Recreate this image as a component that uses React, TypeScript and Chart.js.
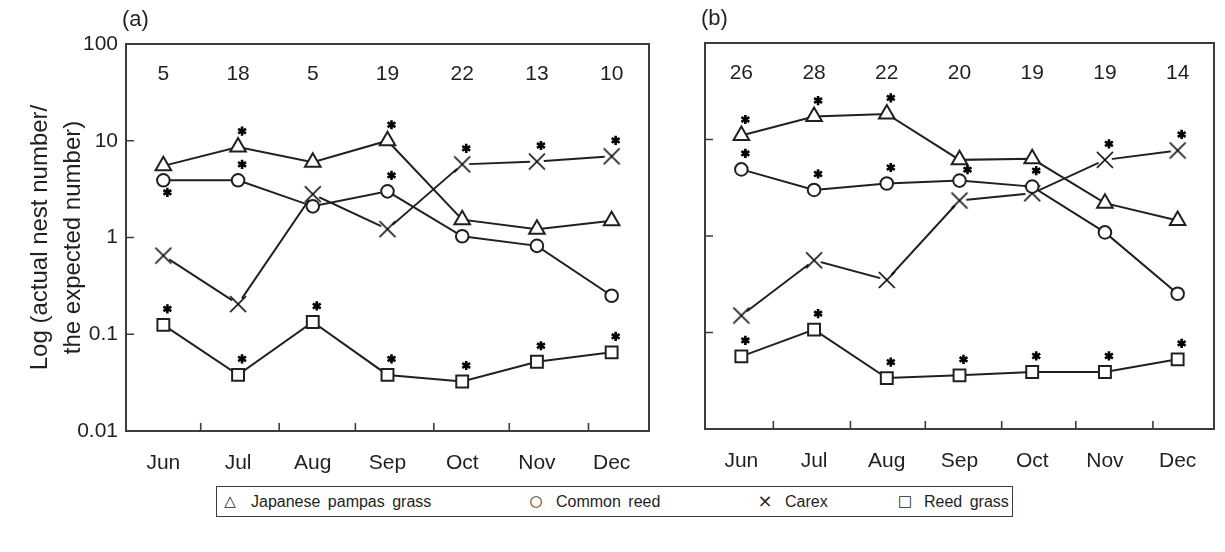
import React, { useEffect, useRef } from 'react';
import { Chart, registerables } from 'chart.js';
Chart.register(...registerables);

// ---------- data ----------
const months = ['Jun', 'Jul', 'Aug', 'Sep', 'Oct', 'Nov', 'Dec'];
const yTickValues = [0.01, 0.1, 1, 10, 100];
const innerYTicks = [0.1, 1, 10];
const xTickMarksA = [0.5, 1.55, 2.57, 3.62, 4.63, 5.69];
const xTickMarksB = [0.44, 1.5, 2.53, 3.58, 4.6, 5.66];

const countsA = [5, 18, 5, 19, 22, 13, 10];
const countsB = [26, 28, 22, 20, 19, 19, 14];

const pampasA = [5.5, 8.6, 6.0, 10.0, 1.53, 1.22, 1.49];
const reedA = [3.9, 3.9, 2.1, 3.0, 1.03, 0.82, 0.25];
const carexA = [0.65, 0.205, 2.8, 1.22, 5.7, 6.1, 6.9];
const reedGrassA = [0.125, 0.038, 0.134, 0.038, 0.0325, 0.052, 0.065];

const pampasB = [11.0, 17.3, 18.4, 6.15, 6.3, 2.19, 1.45];
const reedB = [4.9, 3.0, 3.5, 3.75, 3.25, 1.09, 0.252];
const carexB = [0.15, 0.56, 0.35, 2.33, 2.77, 6.15, 7.7];
const reedGrassB = [0.0566, 0.107, 0.0337, 0.036, 0.039, 0.039, 0.0527];

// significance asterisks: 0 none, 1 above, 2 below, 3 above-right
const sigPampasA = [0, 1, 0, 1, 0, 0, 0];
const sigReedA = [2, 1, 0, 1, 0, 0, 0];
const sigCarexA = [0, 0, 0, 0, 1, 1, 1];
const sigReedGrassA = [1, 1, 1, 1, 1, 1, 1];
const sigPampasB = [1, 1, 1, 0, 0, 0, 0];
const sigReedB = [1, 1, 1, 3, 1, 0, 0];
const sigCarexB = [0, 0, 0, 0, 0, 1, 1];
const sigReedGrassB = [1, 1, 1, 1, 1, 1, 1];

const seriesNames = ['Japanese pampas grass', 'Common reed', 'Carex', 'Reed grass'];
const legendSymbols = ['\u25B3', '\u25CB', '\u00D7', '\u25A1'];
const yTitleLines = ['Log (actual nest number/', 'the expected number)'];

// ---------- styles ----------
const INK = '#231f20';
const FRAME = '#3c3c3c';
const FONT = "'Liberation Sans', Arial, Helvetica, sans-serif";

function makeCross(): HTMLCanvasElement {
  const c = document.createElement('canvas');
  c.width = 24;
  c.height = 24;
  const ctx = c.getContext('2d')!;
  ctx.fillStyle = '#ffffff';
  ctx.beginPath();
  ctx.arc(12, 12, 7, 0, Math.PI * 2);
  ctx.fill();
  ctx.strokeStyle = '#000000';
  ctx.lineWidth = 1.6;
  ctx.beginPath();
  ctx.moveTo(4, 4);
  ctx.lineTo(20, 20);
  ctx.moveTo(20, 4);
  ctx.lineTo(4, 20);
  ctx.stroke();
  return c;
}

function drawStar(ctx: CanvasRenderingContext2D, x: number, y: number) {
  const r = 4.6;
  ctx.beginPath();
  for (let k = 0; k < 3; k++) {
    const a = Math.PI / 2 + (k * Math.PI) / 3;
    ctx.moveTo(x + Math.cos(a) * r, y + Math.sin(a) * r);
    ctx.lineTo(x - Math.cos(a) * r, y - Math.sin(a) * r);
  }
  ctx.stroke();
}

type PanelCfg = {
  label: string;
  counts: number[];
  xMarks: number[];
  sigs: number[][];
  showYLabels: boolean;
  title: boolean;
};

function overlayPlugin(cfg: PanelCfg) {
  return {
    id: 'overlay' + cfg.label,
    afterDraw(chart: any) {
      const ctx: CanvasRenderingContext2D = chart.ctx;
      const { left, right, top, bottom } = chart.chartArea;
      const xs = chart.scales.x;
      const ys = chart.scales.y;
      ctx.save();
      // frame
      ctx.strokeStyle = FRAME;
      ctx.lineWidth = 2;
      ctx.strokeRect(left, top, right - left, bottom - top);
      // inner ticks
      ctx.lineWidth = 1.6;
      ctx.beginPath();
      innerYTicks.forEach((v) => {
        const y = ys.getPixelForValue(v);
        ctx.moveTo(left, y);
        ctx.lineTo(left + 8, y);
      });
      cfg.xMarks.forEach((v) => {
        const x = xs.getPixelForValue(v);
        ctx.moveTo(x, bottom);
        ctx.lineTo(x, bottom - 8);
      });
      ctx.stroke();
      // counts
      ctx.fillStyle = INK;
      ctx.font = `21px ${FONT}`;
      ctx.textAlign = 'center';
      ctx.textBaseline = 'middle';
      cfg.counts.forEach((n, i) => {
        ctx.fillText(String(n), xs.getPixelForValue(i), top + 30);
      });
      // panel label
      ctx.textAlign = 'left';
      ctx.font = `22px ${FONT}`;
      ctx.fillText(cfg.label, left - 4, top - 24);
      // asterisks
      ctx.strokeStyle = '#000000';
      ctx.lineWidth = 2.6;
      cfg.sigs.forEach((sig, di) => {
        const meta = chart.getDatasetMeta(di);
        sig.forEach((s, i) => {
          if (!s) return;
          const p = meta.data[i];
          if (s === 1) drawStar(ctx, p.x + 4, p.y - 16);
          else if (s === 2) drawStar(ctx, p.x + 4, p.y + 12);
          else drawStar(ctx, p.x + 8, p.y - 11);
        });
      });
      // y title
      if (cfg.title) {
        ctx.font = `24px ${FONT}`;
        ctx.fillStyle = INK;
        ctx.textAlign = 'center';
        ctx.textBaseline = 'middle';
        const cy = (top + bottom) / 2;
        const cols = [40, 73];
        yTitleLines.forEach((t, k) => {
          ctx.save();
          ctx.translate(cols[k], cy);
          ctx.rotate(-Math.PI / 2);
          ctx.fillText(t, 0, 0);
          ctx.restore();
        });
      }
      ctx.restore();
    },
  };
}

function buildConfig(
  series: number[][],
  cfg: PanelCfg,
  geom: { yWidth: number; xHeight: number; top: number; right: number },
  cross: HTMLCanvasElement
): any {
  const styles = [
    { pointStyle: 'triangle', pointRadius: 9 },
    { pointStyle: 'circle', pointRadius: 6.3 },
    { pointStyle: cross, pointRadius: 9 },
    { pointStyle: 'rect', pointRadius: 8.4 },
  ];
  return {
    type: 'line',
    data: {
      labels: months,
      datasets: series.map((d, i) => ({
        label: seriesNames[i],
        data: d,
        borderColor: INK,
        borderWidth: 2,
        pointBorderColor: INK,
        pointBackgroundColor: '#ffffff',
        pointBorderWidth: 2,
        tension: 0,
        ...styles[i],
      })),
    },
    options: {
      animation: false,
      responsive: false,
      devicePixelRatio: 1,
      layout: { padding: { left: 0, right: geom.right, top: geom.top, bottom: 0 } },
      plugins: { legend: { display: false }, tooltip: { enabled: false } },
      scales: {
        x: {
          type: 'category',
          offset: true,
          grid: { display: false, drawTicks: false },
          border: { display: false },
          ticks: {
            color: INK,
            font: { family: FONT, size: 21 },
            padding: 20,
            maxRotation: 0,
          },
          afterFit: (s: any) => {
            s.height = geom.xHeight;
          },
        },
        y: {
          type: 'logarithmic',
          min: 0.01,
          max: 100,
          grid: { display: false, drawTicks: false },
          border: { display: false },
          afterBuildTicks: (s: any) => {
            s.ticks = yTickValues.map((v) => ({ value: v }));
          },
          ticks: {
            display: cfg.showYLabels,
            color: INK,
            font: { family: FONT, size: 21 },
            padding: 8,
            callback: (v: any) => String(v),
          },
          afterFit: (s: any) => {
            s.width = geom.yWidth;
          },
        },
      },
    },
    plugins: [overlayPlugin(cfg)],
  };
}

function App() {
  const refA = useRef<HTMLCanvasElement>(null);
  const refB = useRef<HTMLCanvasElement>(null);

  useEffect(() => {
    const cross = makeCross();
    const chartA = new Chart(
      refA.current!,
      buildConfig(
        [pampasA, reedA, carexA, reedGrassA],
        {
          label: '(a)',
          counts: countsA,
          xMarks: xTickMarksA,
          sigs: [sigPampasA, sigReedA, sigCarexA, sigReedGrassA],
          showYLabels: true,
          title: true,
        },
        { yWidth: 126, xHeight: 49, top: 44, right: 11 },
        cross
      )
    );
    const chartB = new Chart(
      refB.current!,
      buildConfig(
        [pampasB, reedB, carexB, reedGrassB],
        {
          label: '(b)',
          counts: countsB,
          xMarks: xTickMarksB,
          sigs: [sigPampasB, sigReedB, sigCarexB, sigReedGrassB],
          showYLabels: false,
          title: false,
        },
        { yWidth: 45, xHeight: 51, top: 43, right: 6 },
        cross
      )
    );
    return () => {
      chartA.destroy();
      chartB.destroy();
    };
  }, []);

  const legendPos = [
    { sym: 230, text: 251 },
    { sym: 536, text: 556 },
    { sym: 765, text: 785 },
    { sym: 905, text: 924 },
  ];

  return (
    <div
      style={{
        position: 'absolute',
        left: 0,
        top: 0,
        width: 1225,
        height: 552,
        background: '#ffffff',
        fontFamily: FONT,
        color: INK,
        overflow: 'hidden',
      }}
    >
      <canvas
        ref={refA}
        width={660}
        height={480}
        style={{ position: 'absolute', left: 0, top: 0, width: 660, height: 480 }}
      />
      <canvas
        ref={refB}
        width={565}
        height={480}
        style={{ position: 'absolute', left: 660, top: 0, width: 565, height: 480 }}
      />
      <div
        style={{
          position: 'absolute',
          left: 216,
          top: 486,
          width: 797,
          height: 31,
          border: `1.5px solid ${FRAME}`,
          boxSizing: 'border-box',
        }}
      />
      {seriesNames.map((name, i) => (
        <React.Fragment key={name}>
          <span
            style={{
              position: 'absolute',
              left: legendPos[i].sym,
              top: 501,
              transform: 'translate(-50%, -50%)',
              fontSize: i === 2 ? 18 : 15,
              fontFamily: "'DejaVu Sans', " + FONT,
              lineHeight: 1,
            }}
          >
            {legendSymbols[i]}
          </span>
          <span
            style={{
              position: 'absolute',
              left: legendPos[i].text,
              top: 502,
              transform: 'translateY(-50%)',
              fontSize: 16,
              lineHeight: 1,
              whiteSpace: 'nowrap',
              wordSpacing: 3,
            }}
          >
            {name}
          </span>
        </React.Fragment>
      ))}
    </div>
  );
}

export default App;
